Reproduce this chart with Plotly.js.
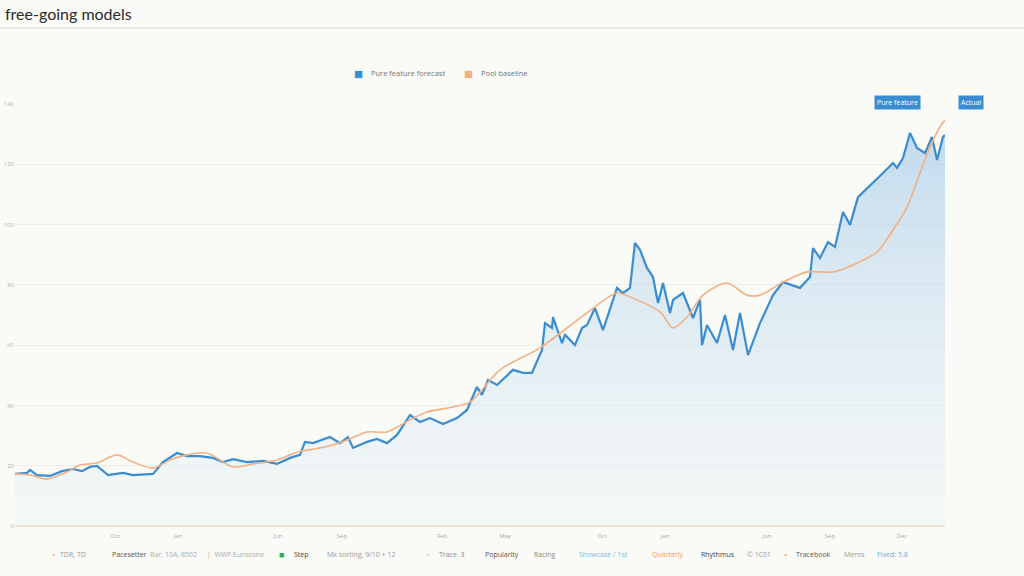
<!DOCTYPE html>
<html>
<head>
<meta charset="utf-8">
<script src="https://cdn.plot.ly/plotly-3.0.1.min.js"></script>
<style>
  html, body { margin: 0; padding: 0; background: #fafaf6; }
  #chart { width: 1024px; height: 576px; }
</style>
</head>
<body>
<div id="chart"></div>
<script>
// blue series: day index and value
const forecastDays = [0, 12, 15, 22, 35, 47, 58, 67, 75, 82, 93, 108, 118, 138, 148, 162, 172, 185, 198, 208,
  218, 232, 248, 262, 275, 285, 290, 298, 315, 325, 333, 338, 352, 362, 372, 382, 395, 405, 415, 428,
  442, 452, 462, 467, 473, 482, 498, 508, 517, 527, 530, 537, 538, 547, 550, 560, 567, 572, 580, 588,
  602, 608, 615, 620, 625, 632, 638, 643, 648, 655, 658, 668, 678, 685, 687, 692, 702, 710, 718, 725,
  733, 745, 758, 768, 785, 795, 798, 805, 813, 820, 828, 835, 843, 852, 858, 868, 878, 882, 888, 895,
  902, 910, 917, 922, 928, 930];
const forecastValues = [17.3, 17.6, 18.6, 16.9, 16.6, 18.2, 18.9, 18.2, 19.6, 19.9, 16.9, 17.6, 16.9, 17.3, 21.2, 24.2, 23.2, 23.2, 22.6, 21.2,
  22.2, 21.2, 21.6, 20.6, 22.6, 23.6, 27.9, 27.5, 29.5, 27.5, 29.5, 25.9, 27.9, 28.9, 27.5, 30.2, 36.8, 34.5, 35.8, 33.8,
  35.8, 38.5, 46.1, 43.5, 48.4, 46.8, 51.8, 50.8, 50.8, 58.4, 67.3, 65.7, 69.3, 60.7, 63.4, 60.0, 65.7, 66.7, 72.3, 65.0,
  79.0, 77.3, 79.0, 93.9, 91.6, 85.6, 82.6, 74.0, 80.6, 70.7, 75.0, 77.3, 69.0, 75.0, 60.0, 66.7, 60.7, 70.0, 58.4, 70.7,
  56.7, 67.3, 76.6, 80.9, 79.0, 82.6, 92.2, 88.9, 94.2, 92.6, 104.2, 99.9, 109.1, 112.1, 113.8, 117.1, 120.4, 118.8, 122.1, 130.4,
  125.4, 123.7, 129.1, 121.4, 129.1, 129.7];

// orange series
const baselineDays = [0, 15, 32, 52, 65, 82, 102, 118, 138, 155, 172, 192, 218, 238, 262, 282, 298, 318, 332, 352,
  372, 395, 412, 438, 455, 485, 525, 572, 602, 618, 645, 658, 672, 688, 712, 732, 745, 768, 792, 805,
  818, 842, 862, 878, 892, 905, 915, 925, 930];
const baselineValues = [17.3, 16.9, 15.6, 17.9, 20.2, 20.9, 23.6, 21.2, 19.2, 21.9, 23.6, 24.2, 19.6, 20.6, 21.9, 24.5, 25.5, 26.9, 28.5, 31.2,
  31.2, 35.2, 37.8, 39.5, 41.1, 51.8, 59.1, 70.7, 77.3, 75.6, 71.0, 65.7, 69.3, 76.6, 80.6, 76.6, 76.6, 80.9, 84.3, 84.3,
  84.3, 87.2, 90.9, 98.2, 105.8, 117.1, 125.7, 132.4, 134.7];

const seriesNames = ["Pure feature forecast", "Pool baseline"];
const yTicks = [0, 20, 40, 60, 80, 100, 120, 140];
const xTickDays = [100, 163, 263, 327, 427, 490, 587, 650, 752, 815, 887];
const xTickLabels = ["Oct", "Jan", "Jun", "Sep", "Feb", "May", "Oct", "Jan", "Jun", "Sep", "Dec"];
const badgeLabels = ["Pure feature", "Actual"];

const footerLabels = ["•", "TDR, TD", "Pacesetter", "Bar, 10A, 8502", "|  WWF Eurozone", "■", "Step",
  "Mk sorting, 9/10 + 12", "•", "Trace  3", "Popularity", "Racing", "Showcase / 1st", "Quarterly",
  "Rhythmus", "© 1C01", "•", "Tracebook", "Meros", "Fixed: 5.8"];
const footerColors = ["#f2b27a", "#999", "#555", "#aaa", "#aaa", "#2eb04f", "#444",
  "#999", "#f5c89a", "#888", "#555", "#888", "#7fb8e0", "#f0a060",
  "#444", "#999", "#f0a060", "#555", "#999", "#6aaee0"];
const footerPx = [50, 58, 110, 148, 205, 277, 292, 325, 424, 437, 483, 532, 577, 650, 699, 745, 782, 794, 842, 875];

const BLUE = "#3a8dd0";
const ORANGE = "#f3b080";
const px = (p) => (p - 15) / 930;
const py = (p) => (526 - p) / 422;

const traces = [
  {
    x: forecastDays, y: forecastValues, type: "scatter", mode: "lines",
    line: { color: BLUE, width: 2.2 },
    fill: "tozeroy",
    fillgradient: {
      type: "vertical", start: 0, stop: 135,
      colorscale: [[0, "rgba(232,242,250,0.3)"], [1, "rgba(160,200,232,0.65)"]]
    },
    name: seriesNames[0], showlegend: false, hoverinfo: "skip"
  },
  {
    x: baselineDays, y: baselineValues, type: "scatter", mode: "lines",
    line: { color: ORANGE, width: 1.6, shape: "spline", smoothing: 0.8 },
    name: seriesNames[1], showlegend: false, hoverinfo: "skip"
  }
];

const annotations = [];
// legend drawn as swatch + label
[BLUE, ORANGE].forEach((c, i) => {
  annotations.push({
    text: "■", xref: "paper", yref: "paper", x: px([358, 468][i]), y: py(73),
    xanchor: "center", yanchor: "middle", showarrow: false,
    font: { size: 15, color: c }
  });
  annotations.push({
    text: seriesNames[i], xref: "paper", yref: "paper", x: px([369, 479][i]), y: py(73),
    xanchor: "left", yanchor: "middle", showarrow: false,
    font: { size: 7.5, color: "#777" }
  });
});
badgeLabels.forEach((t, i) => {
  annotations.push({
    text: t, xref: "paper", yref: "paper",
    x: px([897, 971][i]), y: py(103),
    xanchor: "center", yanchor: "middle", showarrow: false,
    font: { size: 7, color: "#ffffff" },
    bgcolor: BLUE, borderpad: 2
  });
});
footerLabels.forEach((t, i) => {
  annotations.push({
    text: t, xref: "paper", yref: "paper",
    x: px(footerPx[i]), y: py(554),
    xanchor: "left", yanchor: "middle", showarrow: false,
    font: { size: t === "■" || t === "•" ? 9 : 7, color: footerColors[i] }
  });
});

const layout = {
  width: 1024, height: 576,
  margin: { l: 15, r: 79, t: 104, b: 50 },
  paper_bgcolor: "#fafaf6",
  plot_bgcolor: "#fafaf6",
  font: { family: "Open Sans, Lato, sans-serif", color: "#555" },
  title: {
    text: "free-going models",
    xref: "container", yref: "container",
    x: 5 / 1024, xanchor: "left",
    y: 1 - 14 / 576, yanchor: "middle",
    font: { size: 16, color: "#2b2b2b", family: "Lato, Open Sans, sans-serif" }
  },
  xaxis: {
    range: [0, 930], showgrid: false, zeroline: false, showline: false,
    tickmode: "array", tickvals: xTickDays, ticktext: xTickLabels,
    tickfont: { size: 6, color: "#aaa" }, ticklabelstandoff: 5, ticks: ""
  },
  yaxis: {
    range: [0, 140], tickmode: "array", tickvals: yTicks,
    gridcolor: "#ececea", gridwidth: 1,
    zeroline: true, zerolinecolor: "#e6e2cc", zerolinewidth: 1.5,
    tickfont: { size: 6, color: "#b5b5b5" }, ticks: "", showline: false
  },
  showlegend: false,
  shapes: [
    { type: "line", xref: "paper", yref: "paper",
      x0: px(0), x1: px(1024), y0: py(28), y1: py(28),
      line: { color: "#e4e2da", width: 1.5 } }
  ],
  annotations: annotations
};

Plotly.newPlot("chart", traces, layout, { displayModeBar: false, staticPlot: true });
</script>
</body>
</html>
